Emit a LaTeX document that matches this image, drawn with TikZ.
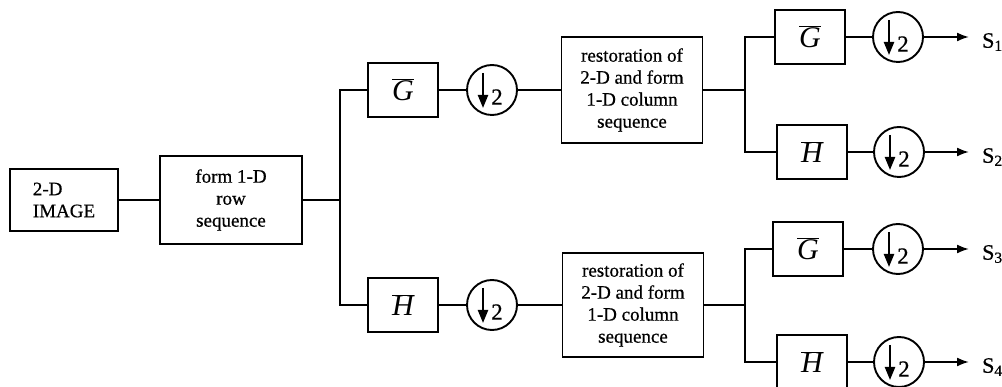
\documentclass[tikz,border=0pt]{standalone}
\usepackage{fontspec}
\setmainfont{Liberation Serif}
\newfontfamily\heavyserif{Liberation Serif}[FakeBold=0.6]
\usetikzlibrary{arrows.meta}

% down-sampling block: circle with a down arrow and the factor 2
\newcommand\dsblock[3]{%
  \node[dsamp] (#1) at (#2,#3) {};
  \draw[line width=2.2pt,-{Triangle[length=13pt,width=10pt]}]
    ([shift={(-9,-17)}]#1.center) -- ([shift={(-9,18)}]#1.center);
  \node[twofont, inner sep=0pt] at ([shift={(5,7)}]#1.center) {2};
}

\begin{document}
\begin{tikzpicture}[x=1pt,y=-1pt,
  wire/.style={line width=1.9pt},
  blockbox/.style={draw, line width=1.9pt, inner sep=0pt, align=center,
                   font=\heavyserif\fontsize{19}{22}\selectfont},
  filt/.style={draw, line width=1.9pt, inner sep=0pt,
               minimum width=70pt, minimum height=54pt,
               font=\fontsize{30}{30}\selectfont},
  dsamp/.style={draw, circle, line width=1.9pt, minimum size=50pt, inner sep=0pt},
  twofont/.style={font=\heavyserif\fontsize{23}{23}\selectfont},
  outarrow/.style={wire, -{Latex[length=12pt,width=9pt]}},
  sig/.style={anchor=west, inner sep=0pt, font=\heavyserif\fontsize{22}{22}\selectfont}
]
\useasboundingbox (0,0) rectangle (1002,387);
\clip (0,0) rectangle (1002,387);

% input and row stage
\node[blockbox, minimum width=108pt, minimum height=62pt, align=left]
  (img) at (64,200) {2-D\\IMAGE};
\node[blockbox, minimum width=142pt, minimum height=88pt]
  (form) at (231,200) {form 1-D\\row\\sequence};
\draw[wire] (img) -- (form);
\coordinate (s0) at (340,200);
\draw[wire] (form.east) -- (s0);

% row filters
\node[filt] (G1) at (403,90) {$\overline{\mbox{\itshape G}}$};
\node[filt] (H1) at (403,305) {$\overline{\mbox{\itshape H}}$};
\draw[wire] (G1.west) -| (s0) |- (H1.west);
\dsblock{d1}{492}{90}
\dsblock{d2}{492}{305}
\draw[wire] (G1) -- (d1);
\draw[wire] (H1) -- (d2);

% column restoration stages
\node[blockbox, minimum width=141pt, minimum height=106pt]
  (r1) at (632,90) {restoration of\\2-D and form\\1-D column\\sequence};
\node[blockbox, minimum width=141pt, minimum height=104pt]
  (r2) at (633,305) {restoration of\\2-D and form\\1-D column\\sequence};
\draw[wire] (d1) -- (r1);
\draw[wire] (d2) -- (r2);

% column filters
\coordinate (s1) at (745,90);
\coordinate (s2) at (745,305);
\draw[wire] (r1.east) -- (s1);
\draw[wire] (r2.east) -- (s2);

\node[filt] (G2) at (810,37)  {$\overline{\mbox{\itshape G}}$};
\node[filt] (H2) at (812,152) {$\overline{\mbox{\itshape H}}$};
\node[filt] (G3) at (808,249) {$\overline{\mbox{\itshape G}}$};
\node[filt] (H3) at (812,362) {$\overline{\mbox{\itshape H}}$};
\draw[wire] (G2.west) -| (s1) |- (H2.west);
\draw[wire] (G3.west) -| (s2) |- (H3.west);

\dsblock{d3}{898}{37}
\dsblock{d4}{899}{152}
\dsblock{d5}{898}{249}
\dsblock{d6}{899}{362}
\draw[wire] (G2) -- (d3);
\draw[wire] (H2) -- (d4);
\draw[wire] (G3) -- (d5);
\draw[wire] (H3) -- (d6);

% outputs
\coordinate (t1) at (969,37);
\coordinate (t2) at (969,152);
\coordinate (t3) at (969,249);
\coordinate (t4) at (969,362);
\draw[outarrow] (d3) -- (t1);
\draw[outarrow] (d4) -- (t2);
\draw[outarrow] (d5) -- (t3);
\draw[outarrow] (d6) -- (t4);
\node[sig] (o1) at ([shift={(13,5)}]t1) {S\textsubscript{1}};
\node[sig] (o2) at ([shift={(13,5)}]t2) {S\textsubscript{2}};
\node[sig] (o3) at ([shift={(13,5)}]t3) {S\textsubscript{3}};
\node[sig] (o4) at ([shift={(13,5)}]t4) {S\textsubscript{4}};
\end{tikzpicture}
\end{document}
